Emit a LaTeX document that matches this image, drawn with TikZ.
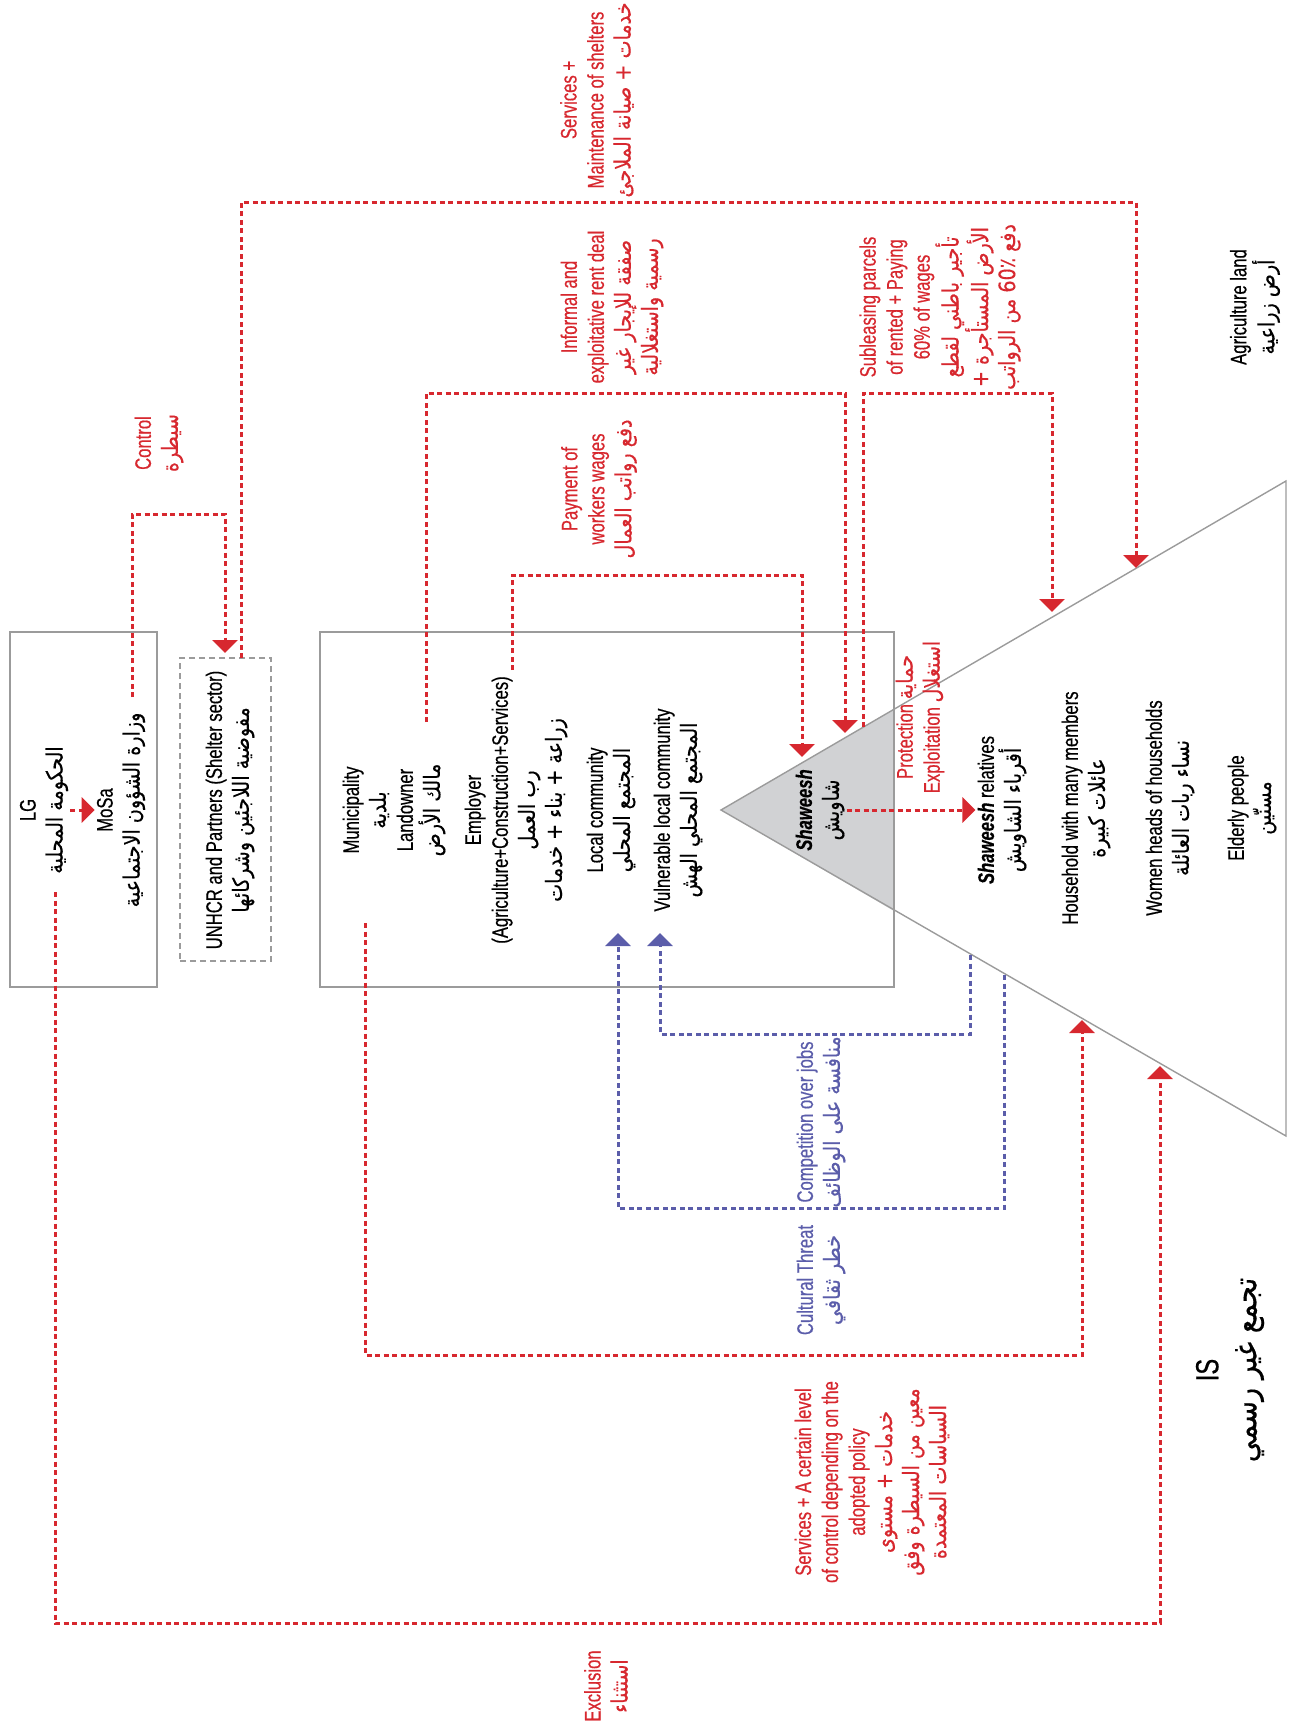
\documentclass[tikz,border=0pt]{standalone}
\usepackage{fontspec}
\setmainfont[FakeStretch=0.74,FakeBold=0.5]{Liberation Sans}
\newfontfamily\arabicfont[Script=Arabic,FakeStretch=0.85,FakeBold=0.4]{DejaVu Sans}
\usetikzlibrary{arrows.meta}
\TeXXeTstate=1
\newcommand{\artxt}[1]{{\arabicfont\beginR #1\endR}}

\definecolor{linkred}{HTML}{D7282F}
\definecolor{linkblue}{HTML}{5B5DAA}
\definecolor{framegray}{HTML}{9B9B9B}
\definecolor{shadegray}{HTML}{D1D2D4}

\tikzset{
  redlink/.style={draw=linkred, line width=3pt, dash pattern=on 5pt off 3.5pt,
    -{Triangle[width=25pt,length=13pt]}},
  bluelink/.style={redlink, draw=linkblue},
  framebox/.style={draw=framegray, line width=1.4pt, inner sep=0pt},
  rotlabel/.style={rotate=90, align=center, inner sep=2pt,
    font=\fontsize{22.5}{27}\selectfont},
  redlabel/.style={rotlabel, text=linkred},
  bluelabel/.style={rotlabel, text=linkblue},
}

\begin{document}
\begin{tikzpicture}[x=1pt,y=-1pt]
        \useasboundingbox (0,0) rectangle (1295,1726) ;
        % triangle of the informal settlement
        \fill[shadegray] (721,810) -- (894,709) -- (894,911) -- cycle ;
        \draw[framegray, line width=1.4pt] (721,810) -- (1286,481) -- (1286,1136) -- cycle ;
        % boxes
        \node[framebox, minimum width=147pt, minimum height=355pt] (lgbox) at (83.5,809.5) {} ;
        \node[framebox, dash pattern=on 6pt off 4pt, minimum width=91pt, minimum height=303pt] (unhcrbox) at (225.5,809.5) {} ;
        \node[framebox, minimum width=574pt, minimum height=355pt] (mainbox) at (607,809.5) {} ;
        % actors
        \node[rotlabel] (lg) at (44,810) {LG\\\artxt{الحكومة المحلية}} ;
        \node[rotlabel] (mosa) at (121,810) {MoSa\\\artxt{وزارة الشؤون الاجتماعية}} ;
        \node[rotlabel] (unhcr) at (230,810) {UNHCR and Partners (Shelter sector)\\\artxt{مفوضية اللاجئين وشركائها}} ;
        \node[rotlabel] (muni) at (394,810) {Municipality\\\artxt{بلدية}\\Landowner\\\artxt{مالك الأرض}} ;
        \node[rotlabel] (employer) at (516,810) {Employer\\(Agriculture+Construction+Services)\\\artxt{رب العمل}\\\artxt{زراعة + بناء + خدمات}} ;
        \node[rotlabel] (local) at (611,810) {Local community\\\artxt{المجتمع المحلي}} ;
        \node[rotlabel] (vulnerable) at (678,810) {Vulnerable local community\\\artxt{المجتمع المحلي الهش}} ;
        \node[rotlabel] (shaweesh) at (820,810) {\textbf{\textit{Shaweesh}}\\\artxt{شاويش}} ;
        \node[rotlabel] (relatives) at (1002,810) {\textbf{\textit{Shaweesh}} relatives\\\artxt{أقرباء الشاويش}} ;
        \node[rotlabel] (household) at (1086,808) {Household with many members\\\artxt{عائلات كبيرة}} ;
        \node[rotlabel] (women) at (1170,808) {Women heads of households\\\artxt{نساء ربات العائلة}} ;
        \node[rotlabel] (elderly) at (1252,808) {Elderly people\\\artxt{مسنّين}} ;
        \node[rotlabel] (agri) at (1255,307) {Agriculture land\\\artxt{أرض زراعية}} ;
        \node[rotlabel, font=\fontsize{32}{38}\selectfont] (is) at (1230,1370) {IS\\\artxt{تجمع غير رسمي}} ;
        % relation labels
        \node[redlabel] (controllbl) at (159,443) {Control\\\artxt{سيطرة}} ;
        \node[redlabel] (shelterlbl) at (597,100) {Services +\\Maintenance of shelters\\\artxt{خدمات + صيانة الملاجئ}} ;
        \node[redlabel] (rentlbl) at (612,307) {Informal and\\exploitative rent deal\\\artxt{صفقة للإيجار غير}\\\artxt{رسمية واستغلالية}} ;
        \node[redlabel] (wagelbl) at (599,489) {Payment of\\workers wages\\\artxt{دفع رواتب العمال}} ;
        \node[redlabel] (sublbl) at (940,307) {Subleasing parcels\\of rented + Paying\\60\% of wages\\\artxt{تأجير باطني لقطع}\\\artxt{الأرض المستأجرة +}\\\artxt{دفع \beginL60٪\endL{} من الرواتب}} ;
        \node[redlabel] (protectlbl) at (920,717) {Protection \artxt{حماية}\\Exploitation \artxt{استغلال}} ;
        \node[bluelabel] (complbl) at (821,1122) {Competition over jobs\\\artxt{منافسة على الوظائف}} ;
        \node[bluelabel] (cultlbl) at (821,1280) {Cultural Threat\\\artxt{خطر ثقافي}} ;
        \node[redlabel] (policylbl) at (872,1482) {Services + A certain level\\of control depending on the\\adopted policy\\\artxt{خدمات + مستوى}\\\artxt{معين من السيطرة وفق}\\\artxt{السياسات المعتمدة}} ;
        \node[redlabel] (excllbl) at (606,1686) {Exclusion\\\artxt{استثناء}} ;
        % ends of the links
        \coordinate (ctrlout) at (132,697) ;
        \coordinate (unhcrin) at (225,653) ;
        \coordinate (shelterout) at (241,658) ;
        \coordinate (shelterin) at (1136,568) ;
        \coordinate (exclout) at (55,892) ;
        \coordinate (exclin) at (1160,1066) ;
        \coordinate (muniout) at (365,923) ;
        \coordinate (muniin) at (1082,1020) ;
        \coordinate (landout) at (426,722) ;
        \coordinate (rentin) at (845,733) ;
        \coordinate (subout) at (863,727) ;
        \coordinate (subin) at (1052,612) ;
        \coordinate (empout) at (512,670) ;
        \coordinate (wagein) at (802,757) ;
        \coordinate (compout) at (970,955) ;
        \coordinate (vulnin) at (660,933) ;
        \coordinate (cultout) at (1004,975) ;
        \coordinate (localin) at (618,933) ;
        % links
        \draw[redlink] (lg) -- (mosa) ;
        \draw[redlink] (shaweesh) -- (relatives) ;
        \draw[redlink] (ctrlout) -- ++(0,-183) -| (unhcrin) ;
        \draw[redlink] (shelterout) -- ++(0,-456) -| (shelterin) ;
        \draw[redlink] (exclout) -- ++(0,731) -| (exclin) ;
        \draw[redlink] (muniout) -- ++(0,432) -| (muniin) ;
        \draw[redlink] (landout) -- ++(0,-329) -| (rentin) ;
        \draw[redlink] (subout) -- ++(0,-334) -| (subin) ;
        \draw[redlink] (empout) -- ++(0,-95) -| (wagein) ;
        \draw[bluelink] (compout) -- ++(0,79) -| (vulnin) ;
        \draw[bluelink] (cultout) -- ++(0,233) -| (localin) ;
\end{tikzpicture}
\end{document}
